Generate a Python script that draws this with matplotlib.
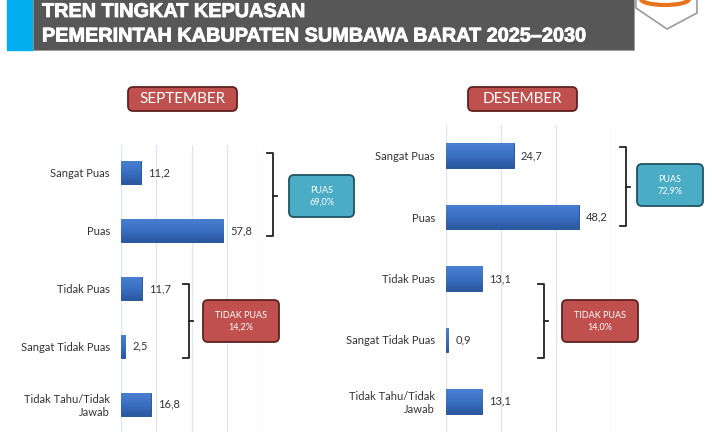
import numpy as np
import matplotlib.pyplot as plt
import matplotlib.patheffects as pe
from matplotlib.colors import LinearSegmentedColormap
from matplotlib.patches import FancyBboxPatch, Rectangle, Polygon, Arc
from matplotlib.lines import Line2D

# data
kategori = ["Sangat Puas", "Puas", "Tidak Puas", "Sangat Tidak Puas", "Tidak Tahu/Tidak\nJawab"]
september = [11.2, 57.8, 11.7, 2.5, 16.8]
desember = [24.7, 48.2, 13.1, 0.9, 13.1]
judul = ["TREN TINGKAT KEPUASAN", "PEMERINTAH KABUPATEN SUMBAWA BARAT 2025\u20132030"]

W, H = 712, 432
fig = plt.figure(figsize=(W / 100, H / 100), dpi=100)
fig.patch.set_facecolor("white")

FONT = ["Lato", "DejaVu Sans"]
gradasi = LinearSegmentedColormap.from_list("biru", ["#4a80d2", "#3a6fc2", "#2b589f"])
grad = np.linspace(0, 1, 32).reshape(-1, 1)


def fmt(v):
    return f"{v:.1f}".replace(".", ",")


def bar_panel(rect, values, xmax, ypad):
    ax = fig.add_axes(rect)
    y = range(len(kategori))
    h = 0.4
    bars = ax.barh(y, values, height=h, color="#3a6dbf", edgecolor="#2b579a",
                   linewidth=0.7, zorder=3)
    # gradasi vertikal di dalam batang
    for i, (b, v) in enumerate(zip(bars, values)):
        im = ax.imshow(grad, cmap=gradasi, aspect="auto", origin="upper",
                       extent=[0, v, i + h / 2, i - h / 2], zorder=3.5)
        im.set_clip_path(b)
    for i, v in enumerate(values):
        ax.annotate(fmt(v), (v, i), xytext=(5, 0), textcoords="offset points",
                    va="center", ha="left", fontsize=8, color="#333333", family=FONT)
    ax.set_xlim(0, xmax)
    ax.set_ylim(len(kategori) - 1 + ypad, -ypad)
    ax.set_xticks(range(0, xmax + 1, 20))
    ax.set_xticklabels([])
    ax.set_yticks(list(y))
    ax.set_yticklabels(kategori, fontsize=8, color="#333333", family=FONT)
    ax.tick_params(length=0, pad=8)
    ax.grid(axis="x", color="#dde6f1", linewidth=1, zorder=0)
    for s in ax.spines.values():
        s.set_visible(False)
    ax.patch.set_alpha(0)
    return ax


bar_panel([121 / W, 0, 141.5 / W, 287 / H], september, 80, 0.48)
bar_panel([446 / W, 0, 165 / W, 307 / H], desember, 60, 0.5)

# overlay in pixel coordinates
ov = fig.add_axes([0, 0, 1, 1], zorder=5)
ov.set_xlim(0, W)
ov.set_ylim(H, 0)
ov.axis("off")
ov.patch.set_alpha(0)

# header
ov.add_patch(Rectangle((7, -2), 26, 52, color="#00aeef"))
ov.add_patch(Rectangle((33, -2), 601, 52, facecolor="#575757", edgecolor="#9a9a9a", linewidth=0.6))
for i, t in enumerate(judul):
    ov.text(42, 11.5 + 24.5 * i, t, color="white", fontsize=14.3, fontweight="bold",
            family=["Liberation Sans Narrow", "Liberation Sans", "DejaVu Sans"],
            va="center", ha="left",
            path_effects=[pe.withStroke(linewidth=0.6, foreground="white")])

# logo corner
ov.add_patch(Polygon([(636, -2), (636, 8), (667, 29), (697, 13), (697, -2)],
                     facecolor="white", edgecolor="#9a9a9a", linewidth=1.2))
ov.add_patch(Arc((665, -1), 48, 12, theta1=0, theta2=180, color="#e8731e", linewidth=3))


def kotak(x0, y0, x1, y1, fc, ec, text, fs):
    ov.add_patch(FancyBboxPatch((x0, y0), x1 - x0, y1 - y0,
                                boxstyle="round,pad=0,rounding_size=5",
                                facecolor=fc, edgecolor=ec, linewidth=1.3))
    ov.text((x0 + x1) / 2, (y0 + y1) / 2, text, color="white", fontsize=fs,
            ha="center", va="center", family=FONT, linespacing=1.4)


def kurung(x0, x1, ytop, ybot, ymid):
    kw = dict(color="#222222", linewidth=1.3)
    ov.add_line(Line2D([x0, x1, x1, x0], [ytop, ytop, ybot, ybot], **kw))
    ov.add_line(Line2D([x1, x1 + 4], [ymid, ymid], **kw))


RED, RED_E = "#c0504d", "#5e2220"
TEAL, TEAL_E = "#4bacc6", "#1f5462"

kotak(128, 87, 237, 111, RED, RED_E, "SEPTEMBER", 11)
kotak(468, 87, 577, 111, RED, RED_E, "DESEMBER", 11)

kurung(267, 273, 153, 236, 196)
kotak(289, 175, 354, 217, TEAL, TEAL_E, f"PUAS\n{fmt(september[0] + september[1])}%", 6.5)
kurung(183, 189, 284, 358, 321)
kotak(203, 300, 279, 342, RED, RED_E, f"TIDAK PUAS\n{fmt(september[2] + september[3])}%", 6.5)

kurung(620, 626, 147, 226, 187)
kotak(637, 164, 703, 206, TEAL, TEAL_E, f"PUAS\n{fmt(desember[0] + desember[1])}%", 6.5)
kurung(538, 544, 284, 358, 321)
kotak(562, 300, 638, 342, RED, RED_E, f"TIDAK PUAS\n{fmt(desember[2] + desember[3])}%", 6.5)

fig.savefig("out.png", dpi=100)
